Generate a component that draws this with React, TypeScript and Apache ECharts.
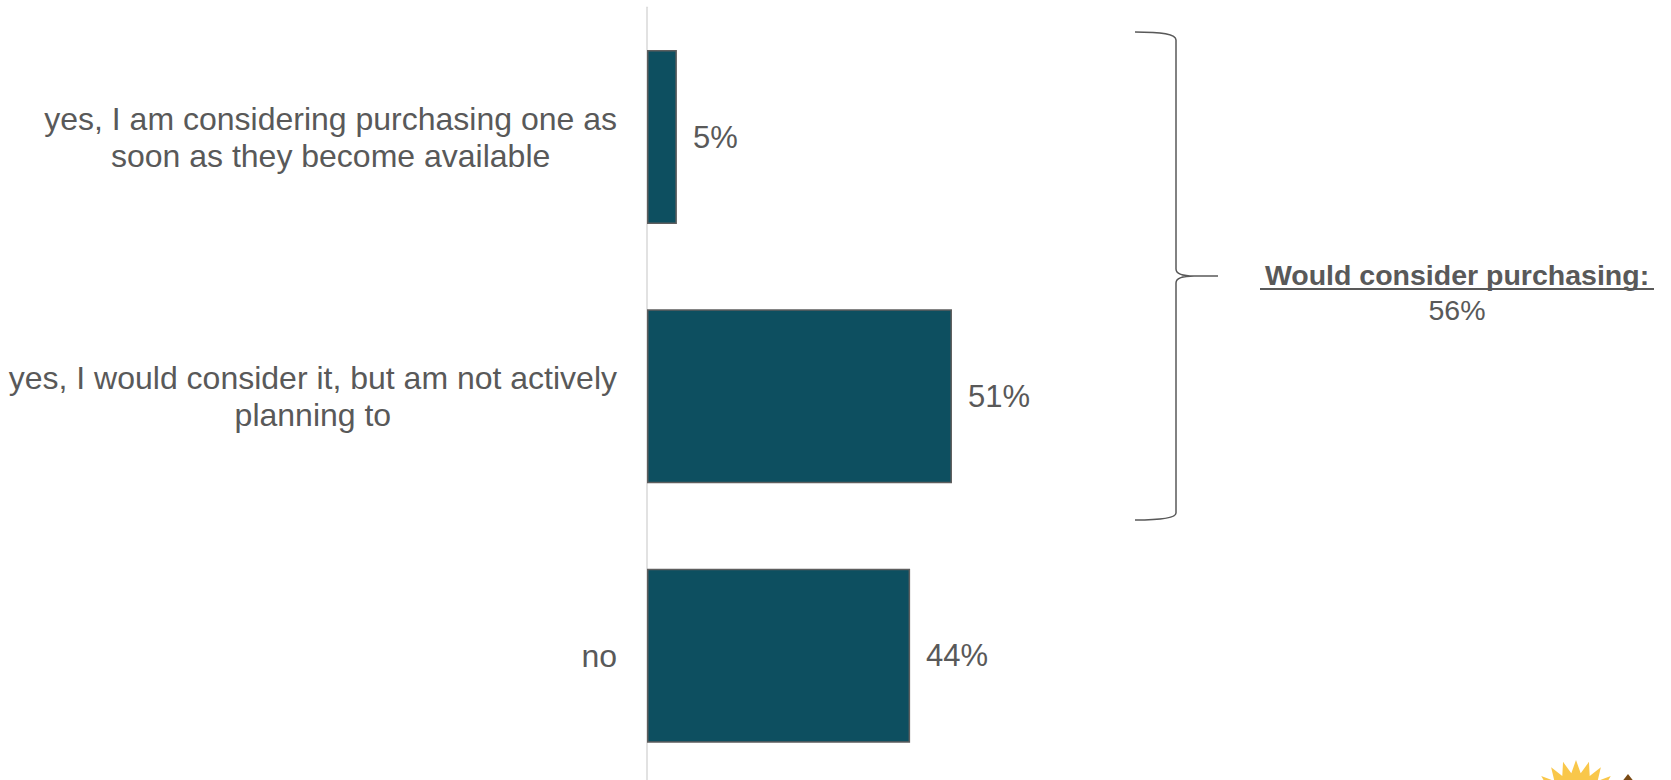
import React, { useEffect, useRef } from "react";
import * as echarts from "echarts";

const categories: string[] = [
  "yes, I am considering purchasing one as\nsoon as they become available",
  "yes, I would consider it, but am not actively\nplanning to",
  "no",
];
const values: number[] = [5, 51, 44];
const summaryTitle = "Would consider purchasing:";
const summaryValue = "56%";

const TEXT = "#595959";
const FONT = "'Liberation Sans', Arial, Helvetica, sans-serif";

const BRACKET_D =
  "M1135 32 C1162 32 1176 34 1176 40 L1176 269 C1176 274 1184 276 1194 276 L1218 276 " +
  "M1194 276 C1184 276 1176 278 1176 283 L1176 513 C1176 518 1162 520 1135 520";

function sunPoints(cx: number, cy: number, rOut: number, rIn: number, n: number) {
  const pts: number[][] = [];
  for (let i = 0; i < n * 2; i++) {
    const r = i % 2 === 0 ? rOut : rIn;
    const a = (Math.PI * i) / n - Math.PI / 2;
    pts.push([cx + r * Math.cos(a), cy + r * Math.sin(a)]);
  }
  return pts;
}

export default function App() {
  const ref = useRef<HTMLDivElement>(null);
  useEffect(() => {
    if (!ref.current) return;
    try {
      echarts.graphic.registerShape("bracket", echarts.graphic.extendPath(BRACKET_D, {}) as any);
    } catch (e) {}
    const chart = echarts.init(ref.current, undefined, { renderer: "svg" });
    chart.setOption({
      animation: false,
      backgroundColor: "#ffffff",
      textStyle: { fontFamily: FONT },
      grid: { left: 647, right: 426, top: 7.35, bottom: 0.65, containLabel: false },
      xAxis: {
        type: "value",
        min: 0,
        max: 100,
        show: false,
        splitLine: { show: false },
      },
      yAxis: {
        type: "category",
        inverse: true,
        data: categories,
        axisLine: { show: true, lineStyle: { color: "#D9D9D9", width: 1.5 } },
        axisTick: { show: false },
        splitLine: { show: false },
        axisLabel: {
          margin: 30,
          formatter: (v: string) => v.split("\n").map((l) => `{c|${l}}`).join("\n"),
          rich: {
            c: {
              align: "center",
              fontSize: 32,
              lineHeight: 37,
              color: TEXT,
              fontFamily: FONT,
            },
          },
        },
      },
      series: [
        {
          type: "bar",
          data: values,
          barWidth: 174,
          itemStyle: { color: "#0D4F60", borderColor: "#5E5E5E", borderWidth: 1.5 },
          label: {
            show: true,
            position: "right",
            distance: 16,
            formatter: "{c}%",
            fontSize: 31,
            color: TEXT,
            fontFamily: FONT,
          },
        },
      ],
      graphic: [
        {
          type: "bracket",
          x: 0,
          y: 0,
          scaleX: 1,
          scaleY: 1,
          silent: true,
          style: { fill: "none", stroke: "#595959", lineWidth: 1.5 },
        },
        {
          type: "text",
          x: 1457,
          y: 275,
          style: {
            text: summaryTitle,
            fill: TEXT,
            font: `bold 28.5px ${FONT}`,
            textAlign: "center",
            textVerticalAlign: "middle",
          },
        },
        {
          type: "line",
          shape: { x1: 1260, y1: 289, x2: 1654, y2: 289 },
          style: { stroke: TEXT, lineWidth: 2 },
        },
        {
          type: "text",
          x: 1457,
          y: 310,
          style: {
            text: summaryValue,
            fill: TEXT,
            font: `28.5px ${FONT}`,
            textAlign: "center",
            textVerticalAlign: "middle",
          },
        },
        {
          type: "polygon",
          shape: { points: sunPoints(1576, 806, 46, 33, 22) },
          style: { fill: "#F9C74A" },
        },
        {
          type: "polygon",
          shape: { points: [[1628, 774], [1614, 792], [1642, 792]] },
          style: { fill: "#7A4A14" },
        },
      ],
    });
    return () => chart.dispose();
  }, []);
  return (
    <div
      ref={ref}
      style={{ position: "fixed", left: 0, top: 0, width: 1671, height: 786 }}
    />
  );
}
